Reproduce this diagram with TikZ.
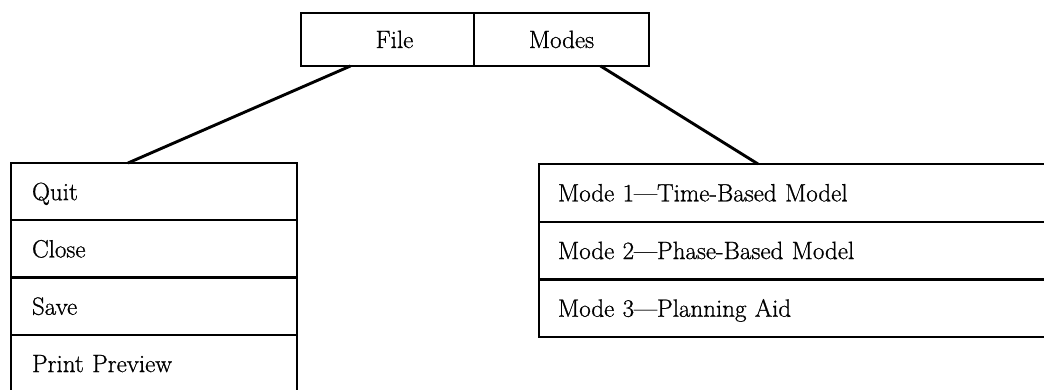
\documentclass[tikz,border=0pt]{standalone}
\usepackage{fontspec}
\newfontfamily\menufont[Ligatures=TeX,FakeBold=0.8]{Latin Modern Roman}
\usetikzlibrary{calc}
\begin{document}
\begin{tikzpicture}[x=1pt,y=-1pt,
  every node/.style={outer sep=0pt},
  menutab/.style={draw,line width=2.3pt,minimum height=53pt,inner sep=0pt,
    text height=17pt,text depth=0pt,font=\menufont\fontsize{25}{29}\selectfont},
  leftrow/.style={draw,line width=2.3pt,anchor=north west,inner xsep=21pt,inner ysep=0pt,
    text width=244pt,align=left,minimum height=57.3pt,
    text height=17pt,text depth=0pt,font=\menufont\fontsize{25}{29}\selectfont},
  rightrow/.style={draw,line width=2.3pt,anchor=north west,inner xsep=19pt,inner ysep=0pt,
    text width=500pt,align=left,minimum height=57.7pt,
    text height=17pt,text depth=0pt,font=\menufont\fontsize{25}{29}\selectfont},
  link/.style={line width=2.9pt}]
\useasboundingbox (0,0) rectangle (1044,390);
\clip (0,0) rectangle (1044,390);

% menu bar
\node[menutab,minimum width=173pt,anchor=north west] (file) at (301,13) {\hspace*{14pt}File};
\node[menutab,minimum width=175pt,anchor=north west] (modes) at (474,13) {Modes};

% File menu
\node[leftrow] (quit) at (11,163) {Quit};
\node[leftrow] (close) at (quit.south west) {Close};
\node[leftrow] (save) at (close.south west) {Save};
\node[leftrow] (preview) at (save.south west) {Print Preview};

% Modes menu
\node[rightrow] (mode1) at (539,164) {Mode 1---Time-Based Model};
\node[rightrow] (mode2) at (mode1.south west) {Mode 2---Phase-Based Model};
\node[rightrow] (mode3) at (mode2.south west) {Mode 3---Planning Aid};

% connectors from the tabs to their menus
\coordinate (fileout) at ([xshift=-37pt]file.south);
\coordinate (filein) at ([xshift=117pt]quit.north west);
\coordinate (modesout) at ([xshift=39pt]modes.south);
\coordinate (modesin) at ([xshift=219pt]mode1.north west);
\draw[link] (fileout) -- (filein);
\draw[link] (modesout) -- (modesin);
\end{tikzpicture}
\end{document}
